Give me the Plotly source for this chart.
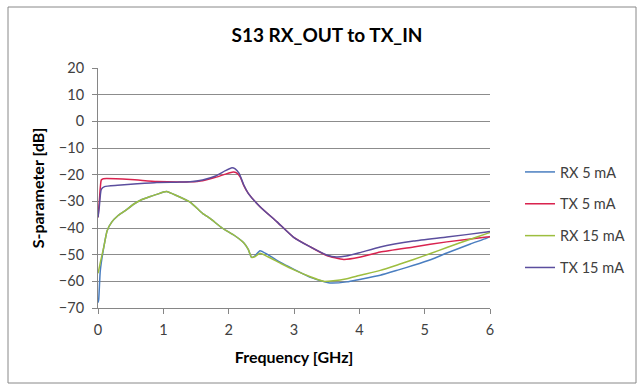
import plotly.graph_objects as go

# ---- data ----
f_rx5 = [0, 0.01, 0.035, 0.09, 0.14, 0.21, 0.3, 0.4, 0.55, 0.65, 0.8, 0.9, 1.0, 1.05, 1.2, 1.41, 1.6, 1.72,
         1.9, 2.1, 2.23, 2.3, 2.35, 2.4, 2.48, 2.6, 2.8, 3.0, 3.25, 3.55, 3.81, 4.0, 4.32, 4.6, 4.83, 5.1,
         5.34, 5.7, 5.95, 6.0]
rx5 = [-68, -67, -56, -47, -41, -37.8, -35.5, -33.8, -31, -29.6, -28.2, -27.4, -26.5, -26.3, -27.8, -30.3,
       -34.5, -36.5, -40, -43, -45.5, -48, -51, -50.5, -48.5, -50, -53, -55.5, -58.5, -60.6, -60.2, -59.3,
       -57.7, -55.7, -54, -51.8, -49.4, -46, -43.8, -43.2]

f_rx15 = [0, 0.01, 0.035, 0.09, 0.14, 0.21, 0.3, 0.4, 0.55, 0.65, 0.8, 0.9, 1.0, 1.05, 1.2, 1.41, 1.6, 1.72,
          1.9, 2.1, 2.23, 2.3, 2.35, 2.4, 2.48, 2.6, 2.8, 3.0, 3.25, 3.45, 3.6, 3.81, 4.0, 4.32, 4.6, 4.83,
          5.1, 5.34, 5.7, 5.95, 6.0]
rx15 = [-57, -56, -53, -47, -41, -37.8, -35.5, -33.8, -31, -29.6, -28.2, -27.4, -26.5, -26.3, -27.8, -30.3,
        -34.5, -36.5, -40, -43, -45.5, -48, -51, -50.8, -49.5, -50.8, -53.3, -55.7, -58.3, -60, -59.8, -59,
        -57.8, -55.9, -53.7, -51.8, -49.5, -47.3, -44.2, -42.1, -41.7]

f_tx5 = [0, 0.02, 0.05, 0.08, 0.5, 0.9, 1.41, 1.6, 1.8, 1.95, 2.07, 2.12, 2.18, 2.23, 2.3, 2.48, 2.74, 2.99,
         3.25, 3.5, 3.76, 4.0, 4.32, 4.83, 5.34, 5.95, 6.0]
tx5 = [-36, -30, -22, -21.5, -21.8, -22.6, -22.7, -22.3, -21, -19.8, -19, -19.3, -21, -24, -27, -32, -37.7,
       -43.4, -47.1, -50.3, -51.8, -51, -49, -47.1, -45.2, -43.4, -43.3]

f_tx15 = [0, 0.02, 0.05, 0.1, 0.3, 0.6, 0.9, 1.2, 1.41, 1.6, 1.8, 1.95, 2.05, 2.1, 2.16, 2.23, 2.3, 2.48,
          2.74, 2.99, 3.25, 3.5, 3.65, 3.8, 4.0, 4.32, 4.83, 5.34, 5.95, 6.0]
tx15 = [-36, -32, -25.5, -24.5, -24, -23.4, -22.9, -22.8, -22.7, -22, -20.5, -18.5, -17.4, -17.8, -19.5,
        -23.8, -27, -32, -37.7, -43.4, -47.1, -50.1, -50.9, -50.5, -49.3, -47.1, -44.9, -43.4, -41.5, -41.3]

series_names = ["RX 5 mA", "TX 5 mA", "RX 15 mA", "TX 15 mA"]
colors = ["#4A7EC0", "#D9234F", "#9DBE3F", "#5B4E9E"]
xs = [f_rx5, f_tx5, f_rx15, f_tx15]
ys = [rx5, tx5, rx15, tx15]

x_ticks = [0, 1, 2, 3, 4, 5, 6]
y_ticks = [20, 10, 0, -10, -20, -30, -40, -50, -60, -70]

FONT = "Lato, 'Open Sans', sans-serif"
TXT = "#404040"

fig = go.Figure()
for name, c, x, y in zip(series_names, colors, xs, ys):
    fig.add_trace(go.Scatter(x=x, y=y, name=name, mode="lines", legendgroup=name,
                             line=dict(color=c, width=1.5, shape="spline", smoothing=0.5)))

W, H = 637, 385
L, R, T, B = 98, 147, 68, 77
pw = W - L - R
ph = H - T - B

def px2paper(px):
    return (px - L) / pw

def py2paper(py):
    return (H - B - py) / ph

fig.update_layout(
    width=W, height=H,
    margin=dict(l=L, r=R, t=T, b=B, autoexpand=False),
    paper_bgcolor="white", plot_bgcolor="white",
    font=dict(family=FONT, size=13, color=TXT),
    title=dict(text="<b>S13 RX_OUT to TX_IN</b>", x=px2paper(327), xref="paper", xanchor="center",
               y=1 - 35 / H, yanchor="middle", font=dict(size=19, color="#000000")),
    xaxis=dict(range=[0, 6], tickvals=x_ticks, ticks="outside", ticklen=5, tickcolor="#868686",
               showline=True, linecolor="#868686", linewidth=1, showgrid=False, zeroline=False,
               ticklabelstandoff=4,
               title=dict(text="<b>Frequency [GHz]</b>", standoff=14, font=dict(size=16, color="#000000")),
               tickfont=dict(size=14.5, color=TXT)),
    yaxis=dict(range=[-70, 20], tickvals=y_ticks, ticks="outside", ticklen=5, tickcolor="#868686",
               showline=True, linecolor="#868686", linewidth=1, showgrid=True, gridcolor="#8C8C8C",
               gridwidth=1, zeroline=False, ticklabelstandoff=5,
               title=dict(text="<b>S-parameter [dB]</b>", standoff=10, font=dict(size=16, color="#000000")),
               tickfont=dict(size=14.5, color=TXT)),
    legend=dict(x=px2paper(520), xanchor="left", y=py2paper(156), yanchor="top",
                font=dict(size=14.5, color=TXT), tracegroupgap=10, bgcolor="rgba(0,0,0,0)"),
    showlegend=True,
)

# outer chart border
fig.add_shape(type="rect", xref="paper", yref="paper",
              x0=px2paper(8), x1=px2paper(636), y0=py2paper(383), y1=py2paper(7),
              line=dict(color="#888888", width=1), fillcolor="rgba(0,0,0,0)", layer="below")

fig.write_html("out.html")
